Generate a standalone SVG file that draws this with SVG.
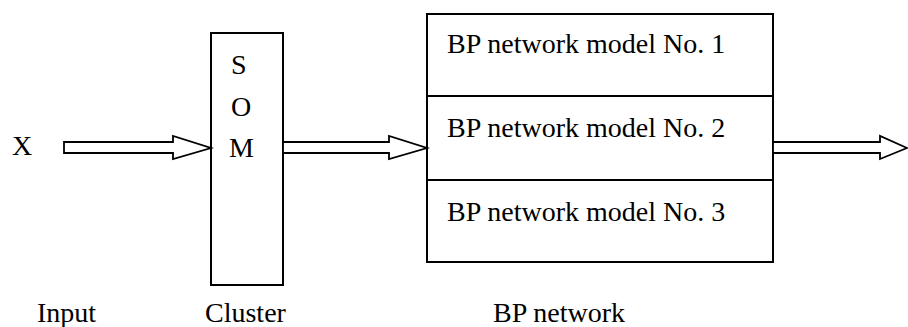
<svg xmlns="http://www.w3.org/2000/svg" width="908" height="327" viewBox="0 0 908 327">
<style>
.t{font-family:"Liberation Serif","Times New Roman",serif;font-size:28px;fill:#000}
.box{fill:#fff;stroke:#000;stroke-width:2}
.arr{fill:#fff;stroke:#000;stroke-width:1.8;stroke-linejoin:miter}
</style>
<rect width="908" height="327" fill="#fff"/>
<g id="input">
<text class="t" x="12" y="155">X</text>
</g>
<g id="som">
<rect class="box" x="211" y="33" width="72" height="252"/>
<text class="t" x="231" y="74">S</text>
<text class="t" x="231" y="116">O</text>
<text class="t" x="229" y="157">M</text>
</g>
<g id="bp">
<rect class="box" x="427" y="14" width="346" height="248"/>
<line x1="427" y1="96" x2="773" y2="96" stroke="#000" stroke-width="2"/>
<line x1="427" y1="180" x2="773" y2="180" stroke="#000" stroke-width="2"/>
<text class="t" x="447" y="53">BP network model No. 1</text>
<text class="t" x="447" y="137">BP network model No. 2</text>
<text class="t" x="447" y="221">BP network model No. 3</text>
</g>
<g id="connectors">
<polygon class="arr" points="64,142 173,142 173,136 211,148 173,159 173,153 64,153"/>
<polygon class="arr" points="283,142 389,142 389,136 427,148 389,159 389,153 283,153"/>
<polygon class="arr" points="773,142 880,142 880,136 907,148 880,159 880,153 773,153"/>
</g>
<g id="labels">
<text class="t" x="37" y="322">Input</text>
<text class="t" x="205" y="322">Cluster</text>
<text class="t" x="493" y="322">BP network</text>
</g>
</svg>
